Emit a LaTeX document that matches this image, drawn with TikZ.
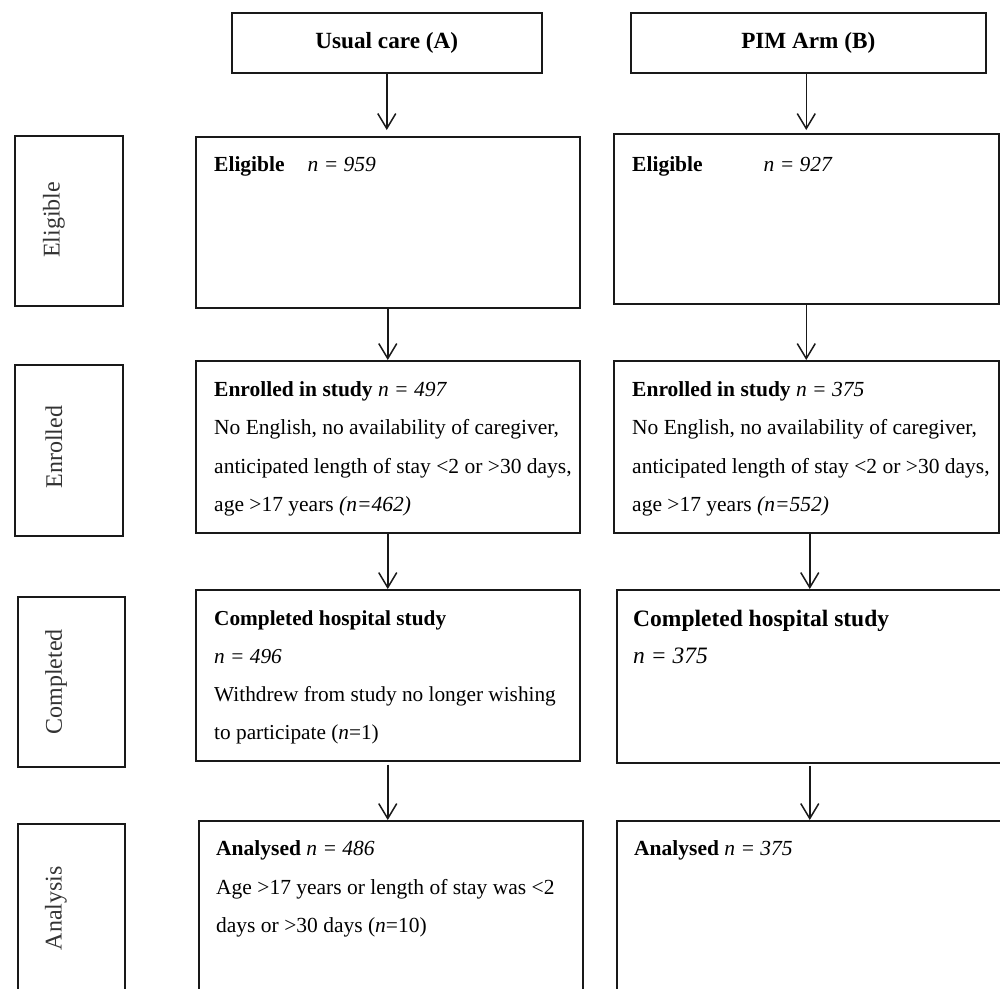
\documentclass[tikz,border=0pt]{standalone}
\usepackage{fontspec}
\setmainfont{Liberation Serif}
\usetikzlibrary{arrows.meta}
\begin{document}
\begin{tikzpicture}[x=1pt,y=-1pt,
  box/.style={draw=black!90, line width=1.5pt, rectangle, inner sep=0pt, anchor=north west},
  head/.style={box, font=\fontsize{23.2}{28}\selectfont\bfseries},
  arr/.style={draw=black!90, line width=1.5pt, -{Straight Barb[length=15pt,width=18pt,line width=1.5pt]}},
  txt/.style={anchor=north west, inner sep=0pt, align=left, font=\fontsize{21.5}{38.5}\selectfont},
  side/.style={rotate=90, inner sep=0pt, font=\fontsize{24}{28}\selectfont, text=black!80}]
\useasboundingbox (0,0) rectangle (1000,988);
\clip (0,0) rectangle (1000,988);
% header boxes
\node[head, minimum width=310pt, minimum height=60pt] (uA) at (231,12) {Usual care (A)};
\node[head, minimum width=355pt, minimum height=60pt] (uB) at (630,12) {PIM Arm (B)};
% side boxes
\node[box, minimum width=108pt, minimum height=170pt] (sE) at (14,135) {};
\node[box, minimum width=108pt, minimum height=171pt] (sN) at (14,364) {};
\node[box, minimum width=107pt, minimum height=170pt] (sC) at (17,596) {};
\node[box, minimum width=107pt, minimum height=250pt] (sA) at (17,823) {};
\node[side] (lE) at (54,220) {Eligible};
\node[side] (lN) at (54,447) {Enrolled};
\node[side] (lC) at (56,682) {Completed};
\node[side] (lA) at (56,908) {Analysis};
% main boxes
\node[box, minimum width=384pt, minimum height=171pt] (eA) at (195,136) {};
\node[box, minimum width=385pt, minimum height=170pt] (eB) at (613,133) {};
\node[box, minimum width=384pt, minimum height=172pt] (nA) at (195,360) {};
\node[box, minimum width=385pt, minimum height=172pt] (nB) at (613,360) {};
\node[box, minimum width=384pt, minimum height=171pt] (cA) at (195,589) {};
\node[box, minimum width=386pt, minimum height=173pt] (cB) at (616,589) {};
\node[box, minimum width=384pt, minimum height=250pt] (aA) at (198,820) {};
\node[box, minimum width=390pt, minimum height=250pt] (aB) at (616,820) {};
% texts
\node[txt] (teA) at (214,144) {\strut\textbf{Eligible}\hspace{23pt}\textit{n = 959}};
\node[txt] (teB) at (632,144) {\strut\textbf{Eligible}\hspace{61pt}\textit{n = 927}};
\node[txt] (tnA) at (214,369) {\strut\textbf{Enrolled in study} \textit{n = 497}\\
No English, no availability of caregiver,\\
anticipated length of stay <2 or >30 days,\\
age >17 years \textit{(n=462)}};
\node[txt] (tnB) at (632,369) {\strut\textbf{Enrolled in study} \textit{n = 375}\\
No English, no availability of caregiver,\\
anticipated length of stay <2 or >30 days,\\
age >17 years \textit{(n=552)}};
\node[txt, font=\fontsize{21.3}{38.3}\selectfont] (tcA) at (214,598) {\strut\textbf{Completed hospital study}\\
\textit{n = 496}\\
Withdrew from study no longer wishing\\
to participate (\textit{n}=1)};
\node[txt, font=\fontsize{23.5}{37.5}\selectfont] (tcB) at (633,600) {\strut\textbf{Completed hospital study}\\
\textit{n = 375}};
\node[txt, font=\fontsize{21.5}{38.8}\selectfont] (taA) at (216,828) {\strut\textbf{Analysed} \textit{n = 486}\\
Age >17 years or length of stay was <2\\
days or >30 days (\textit{n}=10)};
\node[txt, font=\fontsize{21.5}{38.8}\selectfont] (taB) at (634,828) {\strut\textbf{Analysed} \textit{n = 375}};
% arrows
\draw[arr, shorten >=6pt] (uA.south) -- (uA.south |- eA.north);
\draw[arr, shorten >=3pt] (eB.north |- uB.south) -- (eB.north);
\draw[arr] (eA.south) -- (eA.south |- nA.north);
\draw[arr] (eB.south) -- (eB.south |- nB.north);
\draw[arr] (nA.south) -- (nA.south |- cA.north);
\draw[arr] (cB.north |- nB.south) -- (cB.north);
\draw[arr, shorten <=3pt] (cA.south) -- (cA.south |- aA.north);
\draw[arr, shorten <=2pt] (cB.south) -- (cB.south |- aB.north);
\end{tikzpicture}
\end{document}
